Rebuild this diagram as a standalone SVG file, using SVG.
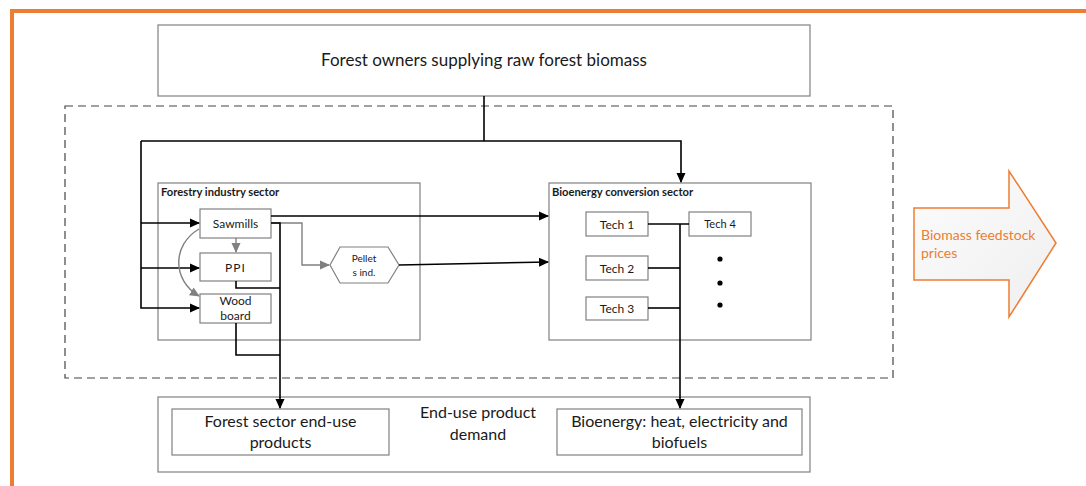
<svg xmlns="http://www.w3.org/2000/svg" width="1086" height="486" viewBox="0 0 1086 486">
<defs>
<style>
.box{fill:#fff;stroke:#808080;stroke-width:1.2}
.t{font-family:Lato,"Liberation Sans",sans-serif;fill:#1a1a1a}
.tb{font-family:Lato,"Liberation Sans",sans-serif;font-weight:bold;font-size:11.2px;fill:#1a1a1a}
.bl{fill:none;stroke:#000;stroke-width:1.6}
.gr{fill:none;stroke:#808080;stroke-width:1.4}
</style>
<marker id="ab" markerWidth="10" markerHeight="10" refX="9" refY="5" orient="auto" markerUnits="userSpaceOnUse"><path d="M0,0.5 L10,5 L0,9.5 Z" fill="#000"/></marker>
<marker id="ag" markerWidth="10" markerHeight="10" refX="9" refY="5" orient="auto" markerUnits="userSpaceOnUse"><path d="M0,0.5 L10,5 L0,9.5 Z" fill="#808080"/></marker>
<linearGradient id="gg" x1="0" y1="0" x2="1" y2="1"><stop offset="0" stop-color="#fcfcfc"/><stop offset="1" stop-color="#efefef"/></linearGradient>
</defs>
<rect x="12" y="11" width="1100" height="500" fill="none" stroke="#ED7D31" stroke-width="4"/>
<rect x="65" y="106" width="828" height="272" fill="none" stroke="#444" stroke-width="1.2" stroke-dasharray="8,5"/>

<g id="owners"><rect class="box" x="158" y="25" width="652" height="71"/><text class="t" x="484" y="66" font-size="17" text-anchor="middle">Forest owners supplying raw forest biomass</text></g>

<g id="forestry"><rect class="box" x="158" y="183" width="262" height="157"/><text class="tb" x="161" y="196">Forestry industry sector</text></g>
<g id="sawmills"><rect class="box" x="200" y="209" width="71" height="29"/><text class="t" x="235.5" y="228" font-size="12" text-anchor="middle">Sawmills</text></g>
<g id="ppi"><rect class="box" x="200" y="253" width="71" height="28"/><text class="t" x="235.5" y="272" font-size="12" text-anchor="middle" letter-spacing="1">PPI</text></g>
<g id="woodboard"><rect class="box" x="200" y="294" width="71" height="29"/><text class="t" x="235.5" y="305" font-size="12" text-anchor="middle">Wood</text><text class="t" x="235.5" y="320" font-size="12" text-anchor="middle">board</text></g>
<g id="pellets"><polygon class="box" points="330,265 340,247 388,247 399,265 388,283 340,283"/><text class="t" x="364" y="262" font-size="10" text-anchor="middle">Pellet</text><text class="t" x="364" y="276" font-size="10" text-anchor="middle">s ind.</text></g>

<g id="bioenergy"><rect class="box" x="549" y="183" width="262" height="157"/><text class="tb" x="552" y="196">Bioenergy conversion sector</text></g>
<g id="tech1"><rect class="box" x="586" y="212" width="62" height="24"/><text class="t" x="617" y="228.5" font-size="12" text-anchor="middle">Tech 1</text></g>
<g id="tech2"><rect class="box" x="586" y="256" width="62" height="24"/><text class="t" x="617" y="272.5" font-size="12" text-anchor="middle">Tech 2</text></g>
<g id="tech3"><rect class="box" x="586" y="297" width="62" height="23"/><text class="t" x="617" y="313" font-size="12" text-anchor="middle">Tech 3</text></g>
<g id="tech4"><rect class="box" x="689" y="212" width="62" height="24"/><text class="t" x="720" y="228" font-size="11" text-anchor="middle">Tech 4</text></g>
<g id="dots"><circle cx="720" cy="259" r="2.6" fill="#000"/><circle cx="720" cy="283" r="2.6" fill="#000"/><circle cx="720" cy="305" r="2.6" fill="#000"/></g>

<g id="enduse"><rect class="box" x="158" y="397" width="652" height="75"/><text class="t" x="478" y="418" font-size="16" text-anchor="middle">End-use product</text><text class="t" x="478" y="440" font-size="16" text-anchor="middle">demand</text></g>
<g id="forestproducts"><rect class="box" x="172" y="409" width="217" height="46"/><text class="t" x="280.5" y="427" font-size="16" text-anchor="middle">Forest sector end-use</text><text class="t" x="280.5" y="448" font-size="16" text-anchor="middle">products</text></g>
<g id="bioproducts"><rect class="box" x="557" y="409" width="245" height="46"/><text class="t" x="679.5" y="427" font-size="16" text-anchor="middle">Bioenergy: heat, electricity and</text><text class="t" x="679.5" y="448" font-size="16" text-anchor="middle">biofuels</text></g>

<g id="prices"><polygon points="914,208 1009,208 1009,171 1056,243 1009,317 1009,280 914,280" fill="url(#gg)" stroke="#ED7D31" stroke-width="1.5"/><text x="921" y="240" font-family="Lato,'Liberation Sans',sans-serif" font-size="14" fill="#ED7D31">Biomass feedstock</text><text x="921" y="258" font-family="Lato,'Liberation Sans',sans-serif" font-size="14" fill="#ED7D31">prices</text></g>

<g id="connectors">
<path class="bl" d="M484,96 V141"/>
<path class="bl" d="M141,141 H681 V182" marker-end="url(#ab)"/>
<path class="bl" d="M141,141 V308 H199" marker-end="url(#ab)"/>
<path class="bl" d="M141,223 H199" marker-end="url(#ab)"/>
<path class="bl" d="M141,268 H199" marker-end="url(#ab)"/>
<path class="gr" d="M236,238 V252" marker-end="url(#ag)"/>
<path class="gr" d="M199,229 C172,245 172,280 199,296" marker-end="url(#ag)"/>
<path class="gr" d="M271,223 H302 V265 H329" marker-end="url(#ag)"/>
<path class="bl" d="M271,216 H548" marker-end="url(#ab)"/>
<path class="bl" d="M399,265 L548,262" marker-end="url(#ab)"/>
<path class="bl" d="M271,223 H280 V408" marker-end="url(#ab)"/>
<path class="bl" d="M236,281 V288 H280"/>
<path class="bl" d="M236,323 V355 H280"/>
<path class="bl" d="M648,224 H689"/>
<path class="bl" d="M648,268 H680"/>
<path class="bl" d="M648,308 H680"/>
<path class="bl" d="M680,224 V408" marker-end="url(#ab)"/>
</g>
</svg>
